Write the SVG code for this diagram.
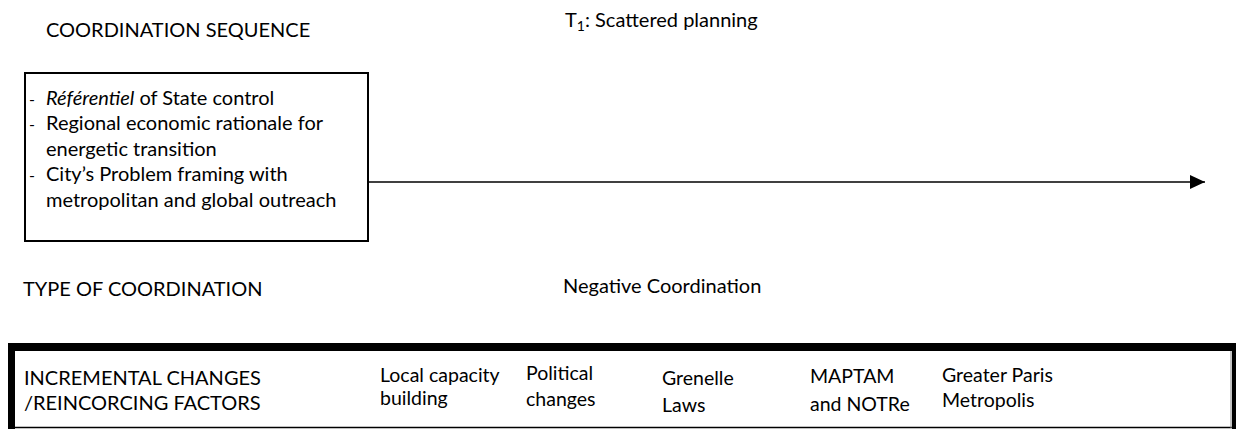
<svg xmlns="http://www.w3.org/2000/svg" width="1236" height="430" viewBox="0 0 1236 430">
<style>
text{font-family:Lato,"Liberation Sans",sans-serif;fill:#000;}
.h{font-size:20px;}
.b{font-size:20px;}
.d{font-size:16px;}
.s{font-size:19.5px;}
.f{font-size:20px;}
</style>
<defs>
<marker id="ah" markerWidth="16" markerHeight="14" refX="15" refY="7" orient="auto" markerUnits="userSpaceOnUse">
<path d="M0,0 L15,7 L0,14 Z" fill="#000"/>
</marker>
</defs>
<rect width="1236" height="430" fill="#fff"/>
<g id="title-sequence"><text class="h" x="46" y="37">COORDINATION SEQUENCE</text></g>
<g id="title-t1"><text class="h" x="565" y="27" font-size="21">T<tspan font-size="14" dy="4">1</tspan><tspan dy="-4">: Scattered planning</tspan></text></g>
<g id="sequence-box">
<rect x="25" y="73" width="343" height="168" fill="#fff" stroke="#000" stroke-width="2"/>
<text class="d" x="29" y="105">-</text><text class="b" x="46" y="105"><tspan font-style="italic">Référentiel</tspan> of State control</text>
<text class="d" x="29" y="130">-</text><text class="b" x="46" y="130">Regional economic rationale for</text>
<text class="b" x="46" y="156">energetic transition</text>
<text class="d" x="29" y="181">-</text><text class="b" x="46" y="181">City’s Problem framing with</text>
<text class="b" x="46" y="207">metropolitan and global outreach</text>
</g>
<g id="connectors">
<line x1="368" y1="182" x2="1205" y2="182" stroke="#000" stroke-width="1.3" marker-end="url(#ah)"/>
</g>
<g id="title-type"><text class="h" x="23" y="296">TYPE OF COORDINATION</text></g>
<g id="negative-coordination"><text class="h" x="563" y="293" font-size="21">Negative Coordination</text></g>
<g id="factors-box">
<rect x="8" y="343" width="1228" height="8" fill="#000"/>
<rect x="8" y="343" width="7" height="86" fill="#000"/>
<rect x="1232" y="343" width="4" height="86" fill="#000"/>
<line x1="8" y1="427.5" x2="1232" y2="427.5" stroke="#000" stroke-width="1.5"/>
<line x1="1231" y1="351" x2="1231" y2="428" stroke="#888" stroke-width="1"/>
<text class="f" x="24" y="385">INCREMENTAL CHANGES</text>
<text class="f" x="24" y="410">/REINCORCING FACTORS</text>
<text class="s" x="380" y="382">Local capacity</text>
<text class="s" x="380" y="405">building</text>
<text class="s" x="526" y="380">Political</text>
<text class="s" x="526" y="406">changes</text>
<text class="s" x="662" y="385">Grenelle</text>
<text class="s" x="662" y="412">Laws</text>
<text class="s" x="810" y="383">MAPTAM</text>
<text class="s" x="810" y="411">and NOTRe</text>
<text class="s" x="942" y="382">Greater Paris</text>
<text class="s" x="942" y="407">Metropolis</text>
</g>
</svg>
